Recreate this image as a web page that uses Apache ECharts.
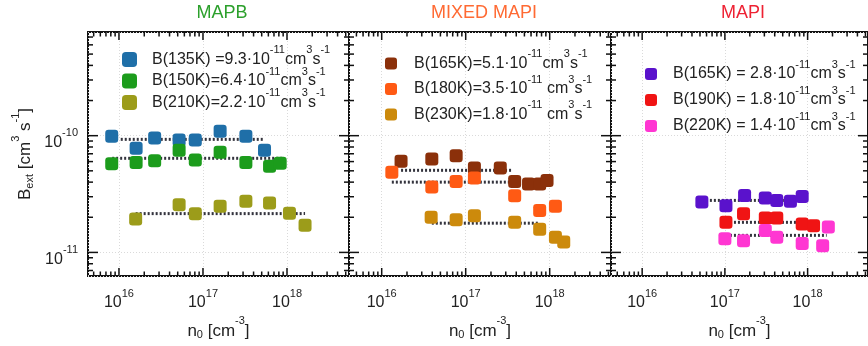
<!DOCTYPE html>
<html><head><meta charset="utf-8">
<script src="https://cdn.jsdelivr.net/npm/echarts@6/dist/echarts.min.js"></script>
<style>html,body{margin:0;padding:0;background:#fff}#c{width:868px;height:346px}</style>
</head><body><div id="c"></div>
<script>
// ---------- DATA ----------
const panelTitles = ['MAPB', 'MIXED MAPI', 'MAPI'];
const xTickExponents = [16, 17, 18];
const yTickExponents = [-11, -10];

// MAPB
const mapb135X = [8.2e15, 1.6e16, 2.66e16, 5.2e16, 8.1e16, 1.6e17, 3.24e17, 5.4e17];
const mapb135Y = [9.9e-11, 7.8e-11, 9.55e-11, 9.2e-11, 9.2e-11, 1.09e-10, 9.9e-11, 7.5e-11];
const mapb150X = [8.2e15, 1.6e16, 2.66e16, 5.2e16, 8.1e16, 1.6e17, 3.24e17, 6.2e17, 8.3e17];
const mapb150Y = [5.75e-11, 5.9e-11, 6.1e-11, 7.5e-11, 6.2e-11, 7.2e-11, 5.9e-11, 5.46e-11, 5.8e-11];
const mapb210X = [1.58e16, 5.2e16, 8.1e16, 1.6e17, 3.24e17, 6.2e17, 1.07e18, 1.64e18];
const mapb210Y = [1.93e-11, 2.56e-11, 2.14e-11, 2.48e-11, 2.74e-11, 2.65e-11, 2.17e-11, 1.71e-11];
const mapbFitB = [9.3e-11, 6.4e-11, 2.15e-11];
const mapbFitFrom = [1.05e16, 8.3e15, 1.58e16];
const mapbFitTo = [5.4e17, 8.9e17, 1.64e18];

// MIXED MAPI
const mix165X = [1.7e16, 3.95e16, 7.7e16, 1.27e17, 2.58e17, 3.83e17, 5.6e17, 7.6e17, 9.3e17];
const mix165Y = [6.03e-11, 6.3e-11, 6.74e-11, 5.28e-11, 5.28e-11, 4.06e-11, 3.85e-11, 3.85e-11, 4.14e-11];
const mix180X = [1.32e16, 3.95e16, 7.7e16, 1.27e17, 3.83e17, 7.6e17, 1.17e18];
const mix180Y = [4.85e-11, 3.63e-11, 4.06e-11, 4.34e-11, 3.06e-11, 2.29e-11, 2.48e-11];
const mix230X = [3.88e16, 7.7e16, 1.27e17, 3.83e17, 7.6e17, 1.17e18, 1.47e18];
const mix230Y = [2.0e-11, 1.9e-11, 2.06e-11, 1.81e-11, 1.58e-11, 1.35e-11, 1.23e-11];
const mixFitB = [5.05e-11, 4.0e-11, 1.78e-11];
const mixFitFrom = [1.7e16, 1.32e16, 3.95e16];
const mixFitTo = [3.65e17, 3.83e17, 7.4e17];

// MAPI
const mapi165X = [5.27e16, 1.03e17, 1.73e17, 3.08e17, 4.24e17, 6.2e17, 8.6e17];
const mapi165Y = [2.7e-11, 2.51e-11, 3.08e-11, 2.92e-11, 2.79e-11, 2.74e-11, 3.02e-11];
const mapi190X = [1.03e17, 1.68e17, 3.08e17, 4.24e17, 8.6e17, 1.18e18];
const mapi190Y = [1.81e-11, 2.14e-11, 1.97e-11, 1.97e-11, 1.75e-11, 1.69e-11];
const mapi220X = [1.0e17, 1.68e17, 3.08e17, 4.24e17, 8.6e17, 1.52e18, 1.78e18];
const mapi220Y = [1.31e-11, 1.26e-11, 1.54e-11, 1.35e-11, 1.19e-11, 1.14e-11, 1.65e-11];
const mapiFitB = [2.79e-11, 1.81e-11, 1.4e-11];
const mapiFitFrom = [5.27e16, 1.03e17, 1.03e17];
const mapiFitTo = [8.6e17, 1.18e18, 1.7e18];

// legend texts (rich markup: f/a = normal, s = superscript)
const mapbLabels = [
  '{f|B(135K) =9.3·10}{s|-11}{a|cm}{s|3}{a|s}{s|-1}',
  '{f|B(150K)=6.4·10}{s|-11}{a|cm}{s|3}{a|s}{s|-1}',
  '{f|B(210K)=2.2·10}{s|-11}{a|cm}{s|3}{a|s}{s|-1}'
];
const mixLabels = [
  '{f|B(165K)=5.1·10}{s|-11}{a|cm}{s|3}{a|s}{s|-1}',
  '{f|B(180K)=3.5·10}{s|-11}{a| cm}{s|3}{a|s}{s|-1}',
  '{f|B(230K)=1.8·10}{s|-11}{a| cm}{s|3}{a|s}{s|-1}'
];
const mapiLabels = [
  '{f|B(165K) = 2.8·10}{s|-11}{a|cm}{s|3}{a|s}{s|-1}',
  '{f|B(190K) = 1.8·10}{s|-11}{a|cm}{s|3}{a|s}{s|-1}',
  '{f|B(220K) = 1.4·10}{s|-11}{a|cm}{s|3}{a|s}{s|-1}'
];

// ---------- STYLE / LAYOUT ----------
const FONT = '"Liberation Sans", Arial, Helvetica, sans-serif';
const titleColors = ['#2ca02c', '#ff6a33', '#ee2233'];
const panelColors = [
  ['#1f6fa8', '#1c9c1c', '#9c9c1a'],
  ['#8b300a', '#ff5a14', '#cc8a0c'],
  ['#5a12cc', '#f01414', '#ff36d2']
];
const grids = [
  {left: 88, top: 32, width: 261, height: 244},
  {left: 349, top: 32, width: 262, height: 244},
  {left: 611, top: 32, width: 261, height: 244}
];
const xMins = [4.28e15, 4.08e15, 4.2e15];
const xMaxs = [5.47e18, 5.37e18, 5.37e18];
const yMin = 6.28e-12, yMax = 7.73e-10;
const legendPos = [
  {left: 117, top: 39.5, gap: -1.5, icon: 15, pad: 10},
  {left: 380, top: 43.5, gap: 2.5, icon: 12, pad: 12},
  {left: 640, top: 54, gap: 3, icon: 12, pad: 11}
];
const titleX = [222, 484, 743];

const panels = [
  {names: ['135K', '150K', '210K'], xs: [mapb135X, mapb150X, mapb210X], ys: [mapb135Y, mapb150Y, mapb210Y],
   fitB: mapbFitB, fitFrom: mapbFitFrom, fitTo: mapbFitTo, labels: mapbLabels},
  {names: ['M165K', '180K', '230K'], xs: [mix165X, mix180X, mix230X], ys: [mix165Y, mix180Y, mix230Y],
   fitB: mixFitB, fitFrom: mixFitFrom, fitTo: mixFitTo, labels: mixLabels},
  {names: ['P165K', '190K', '220K'], xs: [mapi165X, mapi190X, mapi220X], ys: [mapi165Y, mapi190Y, mapi220Y],
   fitB: mapiFitB, fitFrom: mapiFitFrom, fitTo: mapiFitTo, labels: mapiLabels}
];

const supRich = {
  b: {fontFamily: FONT, fontSize: 16, color: '#222', verticalAlign: 'middle'},
  s: {fontFamily: FONT, fontSize: 11, color: '#222', verticalAlign: 'top', padding: [0, 0, 19, 0]}
};
const nameRich = {
  b: {fontFamily: FONT, fontSize: 17, color: '#222', verticalAlign: 'middle'},
  s: {fontFamily: FONT, fontSize: 11, color: '#222', verticalAlign: 'top', padding: [0, 0, 19, 0]},
  u: {fontFamily: FONT, fontSize: 11, color: '#222', verticalAlign: 'bottom', padding: [0, 0, 5, 0]}
};

// tick positions (axis decoration, generated per decade)
function tickData(i) {
  const out = [];
  for (let d = 15; d <= 18; d++) for (let k = 1; k <= 9; k++) {
    const v = k * Math.pow(10, d);
    if (v > xMins[i] * 1.01 && v < xMaxs[i] * 0.99) out.push([v, 1e-10, k === 1 ? 0 : 1]);
  }
  for (let d = -12; d <= -10; d++) for (let k = 1; k <= 9; k++) {
    const v = k * Math.pow(10, d);
    if (v > yMin * 1.01 && v < yMax * 0.99) out.push([1e17, v, k === 1 ? 2 : 3]);
  }
  return out;
}
function tickRender(params, api) {
  const cs = params.coordSys;
  const kind = api.value(2);
  const p = api.coord([api.value(0), api.value(1)]);
  const st = {stroke: '#111', lineWidth: 1.5};
  const ch = [];
  if (kind < 2) {
    const x = p[0], len = kind === 0 ? 8 : 4.5, b = cs.y + cs.height;
    ch.push({type: 'line', shape: {x1: x, y1: b, x2: x, y2: b - len}, style: st});
    ch.push({type: 'line', shape: {x1: x, y1: cs.y, x2: x, y2: cs.y + len}, style: st});
  } else {
    const y = p[1], len = kind === 2 ? 10 : 5, r = cs.x + cs.width;
    ch.push({type: 'line', shape: {x1: cs.x, y1: y, x2: cs.x + len, y2: y}, style: st});
    ch.push({type: 'line', shape: {x1: r, y1: y, x2: r - len, y2: y}, style: st});
  }
  return {type: 'group', children: ch};
}

const xAxis = [], yAxis = [], series = [], legend = [];
panels.forEach((pn, i) => {
  xAxis.push({
    type: 'log', logBase: 10, gridIndex: i, min: xMins[i], max: xMaxs[i],
    axisLine: {show: false}, axisTick: {show: false},
    splitLine: {show: true, lineStyle: {color: '#dadada', type: [1, 2], width: 1}},
    axisLabel: {
      margin: 12, showMinLabel: false, showMaxLabel: false,
      formatter: v => '{b|10}{s|' + Math.round(Math.log10(v)) + '}', rich: supRich
    },
    name: '{b|n}{u|0}{b| [cm}{s|-3}{b|]}', nameLocation: 'middle', nameGap: 32,
    nameTextStyle: {rich: nameRich}
  });
  yAxis.push({
    type: 'log', logBase: 10, gridIndex: i, min: yMin, max: yMax,
    axisLine: {show: false}, axisTick: {show: false},
    splitLine: {show: true, lineStyle: {color: '#dadada', type: [1, 2], width: 1}},
    axisLabel: i === 0 ? {
      show: true, margin: 10, showMinLabel: false, showMaxLabel: false, padding: [14, 0, 0, 0],
      formatter: v => '{b|10}{s|' + Math.round(Math.log10(v)) + '}', rich: supRich
    } : {show: false},
    name: i === 0 ? '{b|B}{u|ext}{b| [cm}{s|3}{b| s}{s|-1}{b|]}' : '',
    nameLocation: 'middle', nameGap: 48, nameTextStyle: {rich: nameRich}
  });
  pn.names.forEach((nm, j) => {
    series.push({
      type: 'line', xAxisIndex: i, yAxisIndex: i, z: 1, silent: true,
      data: [[pn.fitFrom[j], pn.fitB[j]], [pn.fitTo[j], pn.fitB[j]]],
      symbol: 'none', lineStyle: {color: '#33333d', width: 3, type: [2, 2]}
    });
  });
  pn.names.forEach((nm, j) => {
    series.push({
      name: nm, type: 'scatter', xAxisIndex: i, yAxisIndex: i, z: 3,
      symbol: 'roundRect', symbolSize: 13,
      itemStyle: {color: panelColors[i][j], opacity: 1},
      data: pn.xs[j].map((x, k) => [x, pn.ys[j][k]])
    });
  });
  series.push({
    type: 'custom', xAxisIndex: i, yAxisIndex: i, z: 5, silent: true, clip: false,
    data: tickData(i), renderItem: tickRender
  });
  const lp = legendPos[i];
  const labelMap = {};
  pn.names.forEach((nm, j) => labelMap[nm] = pn.labels[j]);
  legend.push({
    data: pn.names, left: lp.left, top: lp.top, orient: 'vertical', itemGap: lp.gap,
    itemWidth: lp.icon, itemHeight: lp.icon, icon: 'roundRect', selectedMode: false,
    itemStyle: {opacity: 1},
    formatter: nm => labelMap[nm],
    textStyle: {
      rich: {
        f: {fontFamily: FONT, fontSize: 16, color: '#222', verticalAlign: 'middle', padding: [0, 0, 0, lp.pad]},
        a: {fontFamily: FONT, fontSize: 16, color: '#222', verticalAlign: 'middle'},
        s: {fontFamily: FONT, fontSize: 11, color: '#222', verticalAlign: 'top', padding: [0, 0, 19, 0]}
      }
    }
  });
});

const chart = echarts.init(document.getElementById('c'), null, {renderer: 'canvas'});
chart.setOption({
  animation: false,
  backgroundColor: '#fff',
  textStyle: {fontFamily: FONT},
  grid: grids.map(g => Object.assign({show: true, borderColor: '#111', borderWidth: 2, backgroundColor: 'transparent'}, g)),
  xAxis, yAxis, series, legend,
  graphic: panelTitles.map((t, i) => ({
    type: 'text', x: titleX[i], y: 4, z: 10,
    style: {text: t, fill: titleColors[i], font: '18px ' + FONT, textAlign: 'center', textVerticalAlign: 'top'}
  }))
});
</script></body></html>
